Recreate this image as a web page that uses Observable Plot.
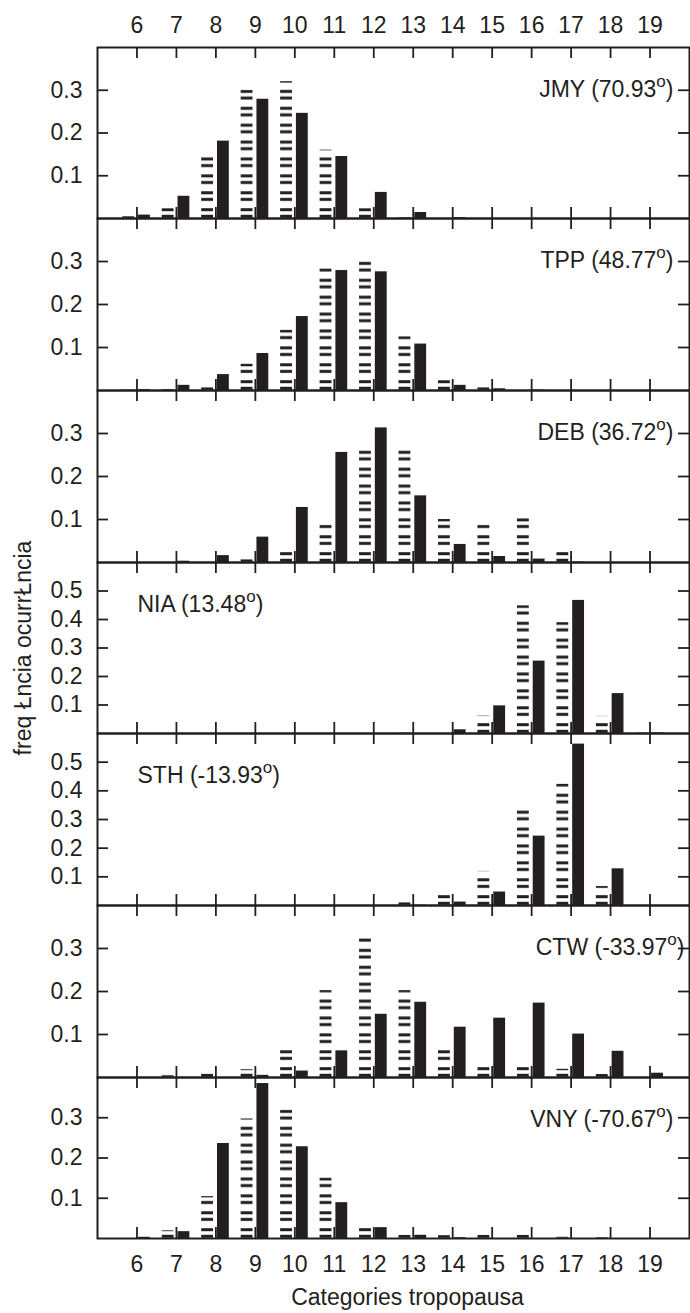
<!DOCTYPE html>
<html><head><meta charset="utf-8">
<script src="https://cdn.jsdelivr.net/npm/d3@7"></script>
<script src="https://cdn.jsdelivr.net/npm/@observablehq/plot@0.6"></script>
<style>
body{margin:0;background:#fff;}
#chart{position:relative;width:690px;height:1313px;}
#chart svg{display:block;}
</style></head><body><div id="chart"></div>
<script>
// ---------- data ----------
const categories = [6, 7, 8, 9, 10, 11, 12, 13, 14, 15, 16, 17, 18, 19];
const stations = ["JMY", "TPP", "DEB", "NIA", "STH", "CTW", "VNY"];
const latitudes = ["70.93", "48.77", "36.72", "13.48", "-13.93", "-33.97", "-70.67"];

const jmyHatched = [0.004, 0.023, 0.143, 0.300, 0.320, 0.160, 0.023, 0.002, 0, 0, 0, 0, 0, 0];
const jmySolid   = [0.008, 0.052, 0.181, 0.279, 0.246, 0.145, 0.061, 0.014, 0.002, 0, 0, 0, 0, 0];
const tppHatched = [0.001, 0.002, 0.006, 0.061, 0.140, 0.283, 0.300, 0.125, 0.023, 0.006, 0, 0, 0, 0];
const tppSolid   = [0.002, 0.012, 0.037, 0.086, 0.172, 0.279, 0.276, 0.108, 0.012, 0.004, 0.001, 0, 0, 0];
const debHatched = [0, 0, 0, 0.006, 0.024, 0.087, 0.260, 0.262, 0.100, 0.087, 0.102, 0.024, 0, 0];
const debSolid   = [0, 0.003, 0.016, 0.059, 0.128, 0.256, 0.313, 0.155, 0.042, 0.014, 0.008, 0.001, 0, 0];
const niaHatched = [0, 0, 0, 0, 0, 0, 0, 0.001, 0, 0.061, 0.448, 0.389, 0.060, 0.001];
const niaSolid   = [0, 0, 0, 0, 0, 0, 0, 0, 0.013, 0.097, 0.254, 0.467, 0.140, 0.002];
const sthHatched = [0, 0, 0, 0, 0, 0, 0, 0.009, 0.035, 0.119, 0.332, 0.423, 0.066, 0];
const sthSolid   = [0, 0, 0, 0, 0, 0, 0, 0.001, 0.012, 0.047, 0.242, 0.563, 0.128, 0];
const ctwHatched = [0, 0.004, 0.008, 0.018, 0.066, 0.202, 0.325, 0.202, 0.063, 0.026, 0.026, 0.019, 0.007, 0];
const ctwSolid   = [0, 0, 0, 0.005, 0.015, 0.062, 0.147, 0.175, 0.117, 0.138, 0.173, 0.101, 0.061, 0.010];
const vnyHatched = [0, 0.019, 0.104, 0.297, 0.319, 0.150, 0.025, 0.008, 0.007, 0.008, 0.008, 0.003, 0.002, 0];
const vnySolid   = [0.003, 0.017, 0.236, 0.385, 0.228, 0.089, 0.027, 0.008, 0.002, 0, 0, 0, 0, 0];

const hatchedSeries = [jmyHatched, tppHatched, debHatched, niaHatched, sthHatched, ctwHatched, vnyHatched];
const solidSeries   = [jmySolid, tppSolid, debSolid, niaSolid, sthSolid, ctwSolid, vnySolid];
const yMax = [0.4, 0.4, 0.4, 0.6, 0.6, 0.4, 0.4];
const yTicksLow  = [0.1, 0.2, 0.3];
const yTicksHigh = [0.1, 0.2, 0.3, 0.4, 0.5];
const xTitle = "Categories tropopausa";
const yTitle = "freq Łncia ocurrŁncia";

// ---------- layout ----------
const ink = "#231f20";
const W = 690, ML = 97, MR = 1;
const frameW = W - ML - MR;
const panelH = [171, 172, 172, 171, 172, 172, 161];
const TOP = 47, BOTTOM = 75;
const font = "'Liberation Sans', Arial, Helvetica, sans-serif";
const ns = "http://www.w3.org/2000/svg";
const chart = document.getElementById("chart");

stations.forEach((name, i) => {
  const rows = categories.map((c, j) => ({cat: c, h: hatchedSeries[i][j], s: solidSeries[i][j]}));
  const mt = i === 0 ? TOP : 0;
  const mb = i === stations.length - 1 ? BOTTOM : 0;
  const ph = panelH[i];
  const baseY = mt + ph;
  const yt = yMax[i] > 0.5 ? yTicksHigh : yTicksLow;
  const leftLabel = yMax[i] > 0.5;
  const label = `${name} (${latitudes[i]}°)`;
  const tk = {stroke: ink, strokeWidth: 1.8};
  const marks = [
    Plot.rect(rows, {x1: d => d.cat - 0.36, x2: d => d.cat - 0.06, y1: 0, y2: "h", fill: `url(#hatch${i})`}),
    Plot.rect(rows, {x1: d => d.cat + 0.04, x2: d => d.cat + 0.34, y1: 0, y2: "s", fill: ink}),
    Plot.tickX(categories, {x: d => d, insetTop: ph - 11, ...tk}),
    Plot.tickX(categories, {x: d => d, insetBottom: ph - 11, ...tk}),
    Plot.tickY(yt, {y: d => d, insetRight: frameW - 11, ...tk}),
    Plot.tickY(yt, {y: d => d, insetLeft: frameW - 11, ...tk}),
    Plot.axisY(yt, {tickSize: 0, tickPadding: 15, tickFormat: d3.format(".1f"), fontSize: 23, label: null}),
    Plot.frame({stroke: ink, strokeWidth: 2}),
    Plot.text([label], {
      frameAnchor: leftLabel ? "top-left" : "top-right",
      dx: leftLabel ? 40 : (name === "CTW" ? -5 : -16),
      dy: 42, lineAnchor: "middle",
      textAnchor: leftLabel ? "start" : "end",
      fontSize: 23, fill: ink
    })
  ];
  if (i === 0) marks.push(Plot.axisX(categories, {anchor: "top", tickSize: 0, tickPadding: 15, fontSize: 23, label: null}));
  if (i === stations.length - 1) {
    marks.push(Plot.axisX(categories, {anchor: "bottom", tickSize: 0, tickPadding: 17, fontSize: 23, label: null}));
    marks.push(Plot.text([xTitle], {frameAnchor: "bottom", dx: 14, dy: 50, lineAnchor: "top", fontSize: 23, fill: ink}));
  }
  const svg = Plot.plot({
    width: W, height: ph + mt + mb,
    marginLeft: ML, marginRight: MR, marginTop: mt, marginBottom: mb,
    x: {domain: [5, 20], axis: (i === 0 || i === stations.length - 1) ? undefined : null},
    y: {domain: [0, yMax[i]]},
    style: {fontFamily: font, fontSize: "23px", color: ink, background: "transparent", overflow: "visible"},
    marks
  });
  const defs = document.createElementNS(ns, "defs");
  defs.innerHTML = `<pattern id="hatch${i}" patternUnits="userSpaceOnUse" width="8" height="16.9" patternTransform="translate(0,${baseY})">` +
    `<rect x="0" y="7.1" width="8" height="3" fill="${ink}"/><rect x="0" y="13.7" width="8" height="3" fill="${ink}"/></pattern>`;
  svg.insertBefore(defs, svg.firstChild);
  // superscript degree "o"
  svg.querySelectorAll("text").forEach(t => {
    const s = t.textContent;
    if (s.includes("°")) {
      const [a, b] = s.split("°");
      t.textContent = a;
      const sup = document.createElementNS(ns, "tspan");
      sup.setAttribute("font-size", "17");
      sup.setAttribute("dy", "-10");
      sup.textContent = "o";
      const rest = document.createElementNS(ns, "tspan");
      rest.setAttribute("dy", "10");
      rest.textContent = b;
      t.append(sup, rest);
    }
  });
  chart.appendChild(svg);
});

// y title overlay
const ov = document.createElementNS(ns, "svg");
ov.setAttribute("width", 60); ov.setAttribute("height", 1313);
ov.style.position = "absolute"; ov.style.left = "0px"; ov.style.top = "0px"; ov.style.overflow = "visible";
const yt = document.createElementNS(ns, "text");
yt.setAttribute("transform", "translate(31,648) rotate(-90)");
yt.setAttribute("text-anchor", "middle");
yt.setAttribute("font-family", font);
yt.setAttribute("font-size", "23");
yt.setAttribute("fill", ink);
yt.textContent = yTitle;
ov.appendChild(yt);
chart.appendChild(ov);
</script></body></html>
